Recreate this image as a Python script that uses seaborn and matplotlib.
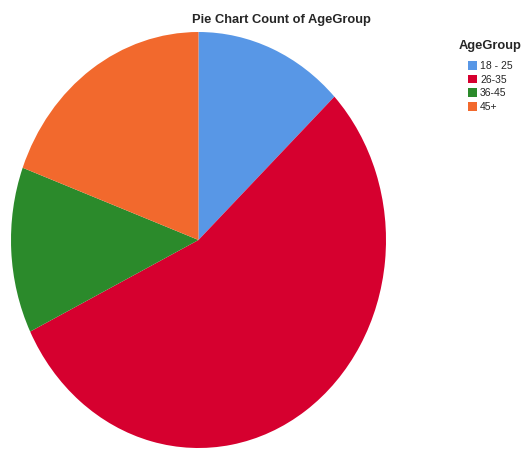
import matplotlib
matplotlib.use("Agg")
import matplotlib.pyplot as plt
from matplotlib.patches import Patch
import seaborn as sns

# Age group counts
age_groups = ["18 - 25", "26-35", "36-45", "45+"]
counts = [4, 17, 4, 6]
colors = ["#5897E6", "#D6002F", "#2B8A2B", "#F2692D"]

sns.set_theme(style="white")
plt.rcParams["font.family"] = ["Liberation Sans", "DejaVu Sans"]

fig = plt.figure(figsize=(5.21, 4.49), dpi=100)
# pie is stretched vertically in the reference, so use an auto-aspect axes
ax = fig.add_axes([11 / 521, 1 / 449, 375 / 521, 416 / 449])
palette = sns.color_palette(colors)
ax.pie(counts, colors=palette, startangle=90, counterclock=False,
       wedgeprops={"linewidth": 0})
ax.set_aspect("auto")
ax.set_xlim(-1, 1)
ax.set_ylim(-1, 1)
ax.axis("off")

fig.text(281 / 521, 1 - 20 / 449, "Pie Chart Count of AgeGroup",
         ha="center", va="center", fontsize=9.3, fontweight="bold")

# legend title sits left of the entries, as in the reference
fig.text(459 / 521, 1 - 46 / 449, "AgeGroup", ha="left", va="center",
         fontsize=9.3, fontweight="bold")
handles = [Patch(facecolor=c, edgecolor="none") for c in palette]
fig.legend(handles, age_groups, loc="upper left",
           bbox_to_anchor=(468 / 521, 1 - 61 / 449),
           frameon=False, fontsize=7.5,
           handlelength=0.9, handleheight=0.9, handletextpad=0.25,
           labelspacing=0.35, borderaxespad=0, borderpad=0)

fig.savefig("out.png", dpi=100)
